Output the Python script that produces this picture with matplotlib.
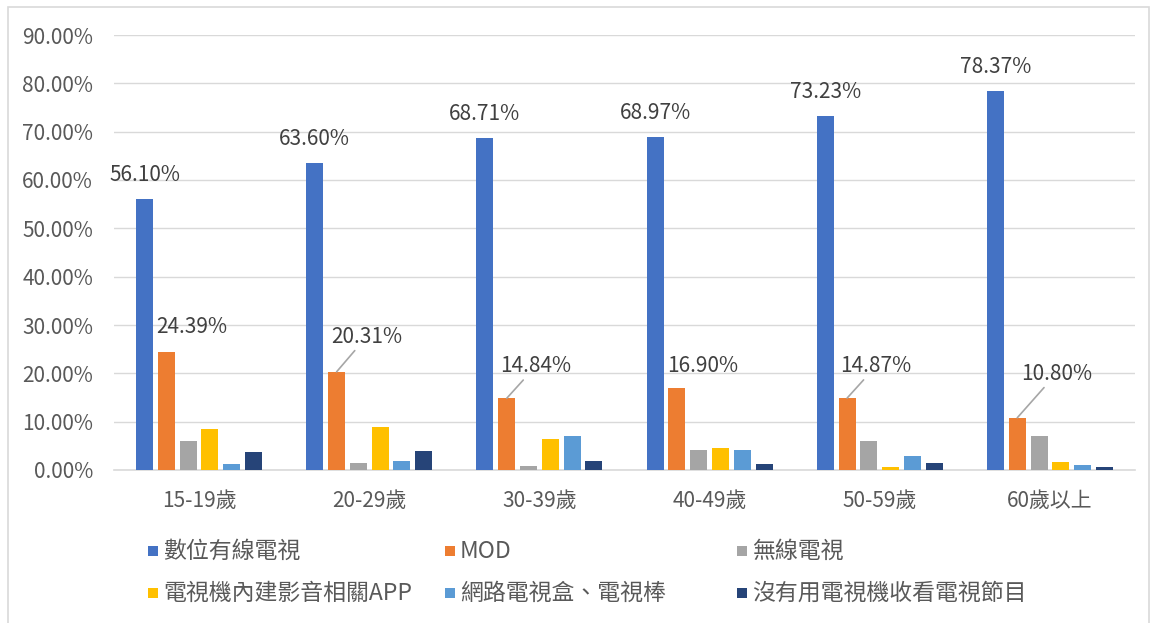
import matplotlib
matplotlib.use("Agg")
import matplotlib.pyplot as plt
from matplotlib.patches import Rectangle
import numpy as np

plt.rcParams['font.family'] = ['Noto Sans CJK TC', 'DejaVu Sans']

categories = ['15-19歲', '20-29歲', '30-39歲', '40-49歲', '50-59歲', '60歲以上']
series_names = ['數位有線電視', 'MOD', '無線電視', '電視機內建影音相關APP', '網路電視盒、電視棒', '沒有用電視機收看電視節目']
digital_cable = [56.10, 63.60, 68.71, 68.97, 73.23, 78.37]
mod = [24.39, 20.31, 14.84, 16.90, 14.87, 10.80]
wireless_tv = [6.08, 1.54, 0.91, 4.13, 5.94, 6.99]
tv_app = [8.53, 8.95, 6.43, 4.55, 0.70, 1.61]
net_box = [1.19, 1.96, 7.13, 4.13, 2.94, 1.12]
no_tv = [3.64, 3.85, 1.89, 1.33, 1.54, 0.70]
yticks = [0, 10, 20, 30, 40, 50, 60, 70, 80, 90]

series = [digital_cable, mod, wireless_tv, tv_app, net_box, no_tv]
colors = ['#4472C4', '#ED7D31', '#A5A5A5', '#FFC000', '#5B9BD5', '#264478']

W, H = 1152, 623
fig = plt.figure(figsize=(W / 100, H / 100), dpi=100)
ax = fig.add_axes([114 / W, 1 - 470 / H, (1135 - 114) / W, (470 - 35) / H])

x = np.arange(len(categories))
step = 0.128
bw = 0.1
for i, (vals, c) in enumerate(zip(series, colors)):
    ax.bar(x + (i - 2.5) * step, vals, width=bw, color=c, zorder=3)

ax.set_xlim(-0.5, len(categories) - 0.5)
ax.set_ylim(0, 90)
ax.set_yticks(yticks)
ax.set_yticklabels([f'{t:.2f}%' for t in yticks])
ax.set_xticks(x)
ax.set_xticklabels(categories)
ax.grid(axis='y', color='#D9D9D9', lw=1, zorder=0)
for s in ['top', 'right', 'left']:
    ax.spines[s].set_visible(False)
ax.spines['bottom'].set_color('#D9D9D9')
ax.spines['bottom'].set_linewidth(1.2)
ax.tick_params(axis='both', length=0, colors='#595959', labelsize=15)
ax.tick_params(axis='x', pad=14)
ax.tick_params(axis='y', pad=15)

label_color = '#404040'
# blue labels
for xi, v in zip(x, digital_cable):
    ax.annotate(f'{v:.2f}%', xy=(xi - 2.5 * step, v), xytext=(0, 24),
                textcoords='offset pixels', ha='center', va='center',
                fontsize=15, color=label_color)
# orange labels
mod_offsets = [(25, 25), (30, 35), (29, 32), (26, 22), (29, 32), (39, 44)]
mod_leader = [False, True, True, False, True, True]
for xi, v, off, lead in zip(x, mod, mod_offsets, mod_leader):
    kw = {}
    if lead:
        kw['arrowprops'] = dict(arrowstyle='-', color='#A6A6A6', lw=1.2,
                                shrinkA=0, shrinkB=0)
    ax.annotate(f'{v:.2f}%', xy=(xi - 1.5 * step, v), xytext=off,
                textcoords='offset pixels', ha='center', va='center',
                fontsize=15, color=label_color, **kw)

# legend (manual, Excel-like layout)
col_x = [148, 445, 737]
row_y = [551, 593]
for i, (name, c) in enumerate(zip(series_names, colors)):
    cx = col_x[i % 3]
    cy = row_y[i // 3]
    fig.patches.append(Rectangle((cx / W, 1 - (cy + 5) / H), 10 / W, 10 / H,
                                 transform=fig.transFigure, facecolor=c,
                                 edgecolor='none'))
    fig.text((cx + 15) / W, 1 - cy / H, name, ha='left', va='center',
             fontsize=16.5, color='#595959')

# outer frame
fig.patches.append(Rectangle((8 / W, -0.05), (1149 - 8) / W, 1.05 - 7 / H,
                             transform=fig.transFigure, fill=False,
                             edgecolor='#D9D9D9', lw=1.2))

fig.savefig('out.png', dpi=100)
